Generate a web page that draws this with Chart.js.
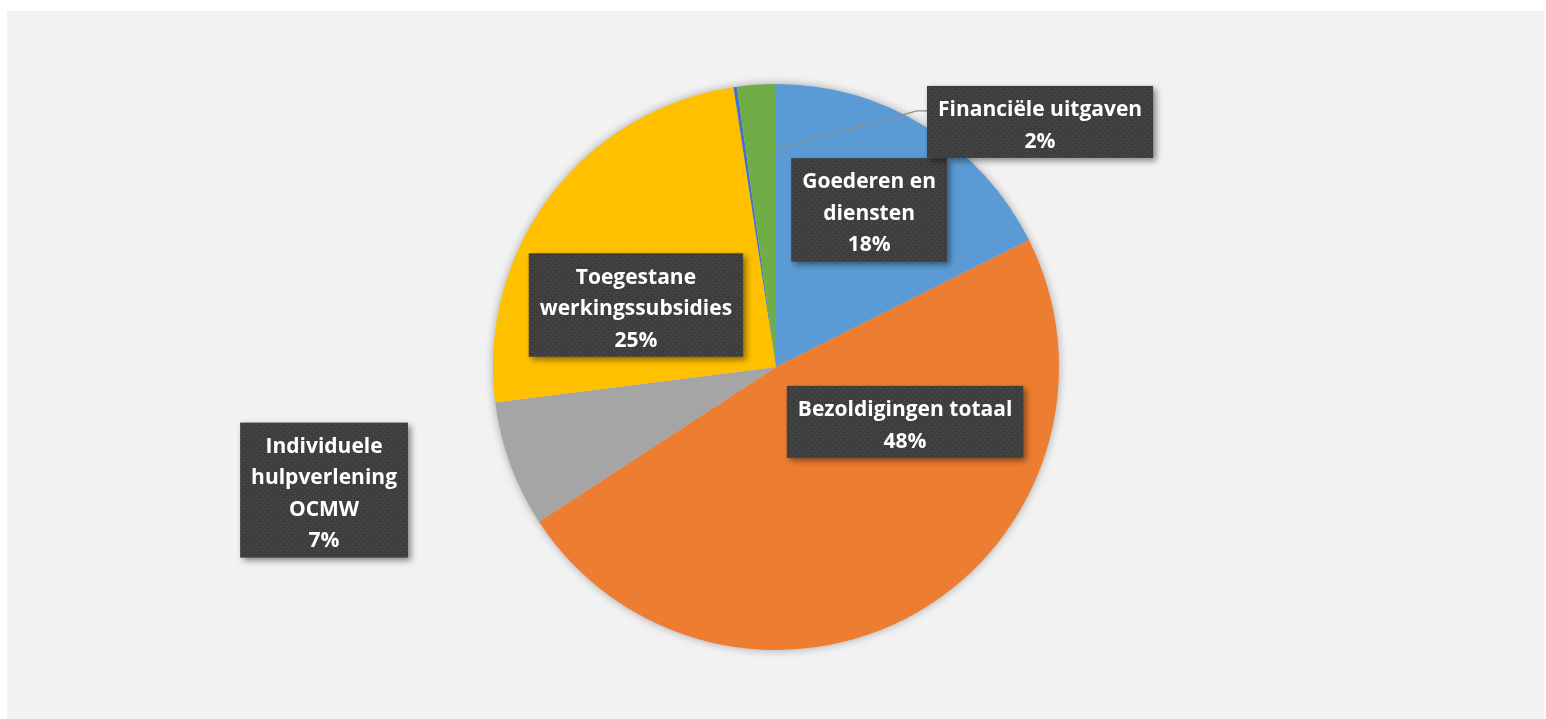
<!DOCTYPE html>
<html>
<head>
<meta charset="utf-8">
<script src="https://cdn.jsdelivr.net/npm/chart.js@4.4.0/dist/chart.umd.min.js"></script>
<style>
  html, body { margin: 0; padding: 0; background: #ffffff; }
  #wrap { width: 1546px; height: 719px; position: relative; }
</style>
</head>
<body>
<div id="wrap"><canvas id="uitgaven" width="1546" height="719"></canvas></div>
<script>
// Categorieën (met regeleinden zoals in de labels)
const categories = [
  ['Goederen en', 'diensten'],
  ['Bezoldigingen totaal'],
  ['Individuele', 'hulpverlening', 'OCMW'],
  ['Toegestane', 'werkingssubsidies'],
  [''],
  ['Financiële uitgaven']
];
// Aandeel in procent
const values = [17.6, 48.2, 7.2, 24.6, 0.2, 2.2];
const colors = ['#5b9bd5', '#ed7d31', '#a5a5a5', '#ffc000', '#4472c4', '#70ad47'];

// positie van elk label t.o.v. het middelpunt, in eenheden van de straal
const labelPos = [
  { x: 0.329, y: -0.555 },
  { x: 0.456, y: 0.194 },
  { x: -1.597, y: 0.435 },
  { x: -0.495, y: -0.219 },
  null,
  { x: 0.933, y: -0.866, leader: true }
];

// achtergrond met grijs vlak
const bgPlugin = {
  id: 'bg',
  beforeDraw(chart) {
    const c = chart.ctx;
    c.save();
    c.fillStyle = '#f2f2f2';
    c.fillRect(7, 11, 1537, 708);
    c.restore();
  },
  beforeDatasetsDraw(chart) {
    // zachte schaduw rond de taart
    const arc = chart.getDatasetMeta(0).data[0];
    const c = chart.ctx;
    c.save();
    c.shadowColor = 'rgba(0,0,0,0.35)';
    c.shadowBlur = 10;
    c.fillStyle = '#cccccc';
    c.beginPath();
    c.arc(arc.x, arc.y, arc.outerRadius - 0.5, 0, Math.PI * 2);
    c.fill();
    c.restore();
  }
};

// gestippeld patroon voor de labelvakken
function makePattern(ctx) {
  const p = document.createElement('canvas');
  p.width = 6; p.height = 6;
  const pc = p.getContext('2d');
  pc.fillStyle = '#3e3e3e';
  pc.fillRect(0, 0, 6, 6);
  pc.fillStyle = '#565656';
  pc.fillRect(1, 1, 1, 1);
  pc.fillRect(4, 4, 1, 1);
  return ctx.createPattern(p, 'repeat');
}

const labelPlugin = {
  id: 'sliceLabels',
  afterDatasetsDraw(chart) {
    const c = chart.ctx;
    const meta = chart.getDatasetMeta(0);
    const pattern = makePattern(c);
    const lineH = 31.5;
    c.save();
    c.font = 'bold 21px "Open Sans", Lato, sans-serif';
    c.textAlign = 'center';
    c.textBaseline = 'middle';
    meta.data.forEach((arc, i) => {
      const pos = labelPos[i];
      if (!pos) return;
      const r = arc.outerRadius;
      const cx = arc.x + pos.x * r;
      const cy = arc.y + pos.y * r;
      const lines = categories[i].concat([Math.round(values[i]) + '%']);
      const w = Math.max(...lines.map(l => c.measureText(l).width)) + 22;
      const h = lines.length * lineH + 9;
      const left = cx - w / 2, top = cy - h / 2;

      if (pos.leader) {
        const a = arc.endAngle;
        const sx = arc.x + Math.cos(a) * r * 0.77;
        const sy = arc.y + Math.sin(a) * r * 0.77;
        c.save();
        c.strokeStyle = '#8c8c8c';
        c.lineWidth = 1.3;
        c.beginPath();
        c.moveTo(sx, sy);
        c.lineTo(left - 10, top + 25);
        c.lineTo(left, top + 25);
        c.stroke();
        c.restore();
      }

      c.save();
      c.shadowColor = 'rgba(0,0,0,0.45)';
      c.shadowBlur = 6;
      c.shadowOffsetX = 3;
      c.shadowOffsetY = 3;
      c.fillStyle = pattern;
      c.fillRect(left, top, w, h);
      c.restore();

      c.fillStyle = '#ffffff';
      lines.forEach((l, k) => {
        c.fillText(l, cx, top + 8.5 + lineH * (k + 0.5));
      });
    });
    c.restore();
  }
};

new Chart(document.getElementById('uitgaven'), {
  type: 'pie',
  data: {
    labels: categories,
    datasets: [{
      data: values,
      backgroundColor: colors,
      borderWidth: 0
    }]
  },
  options: {
    responsive: false,
    animation: false,
    layout: { padding: { top: 84, bottom: 69, left: 6, right: 0 } },
    plugins: {
      legend: { display: false },
      tooltip: { enabled: false }
    }
  },
  plugins: [bgPlugin, labelPlugin]
});
</script>
</body>
</html>
